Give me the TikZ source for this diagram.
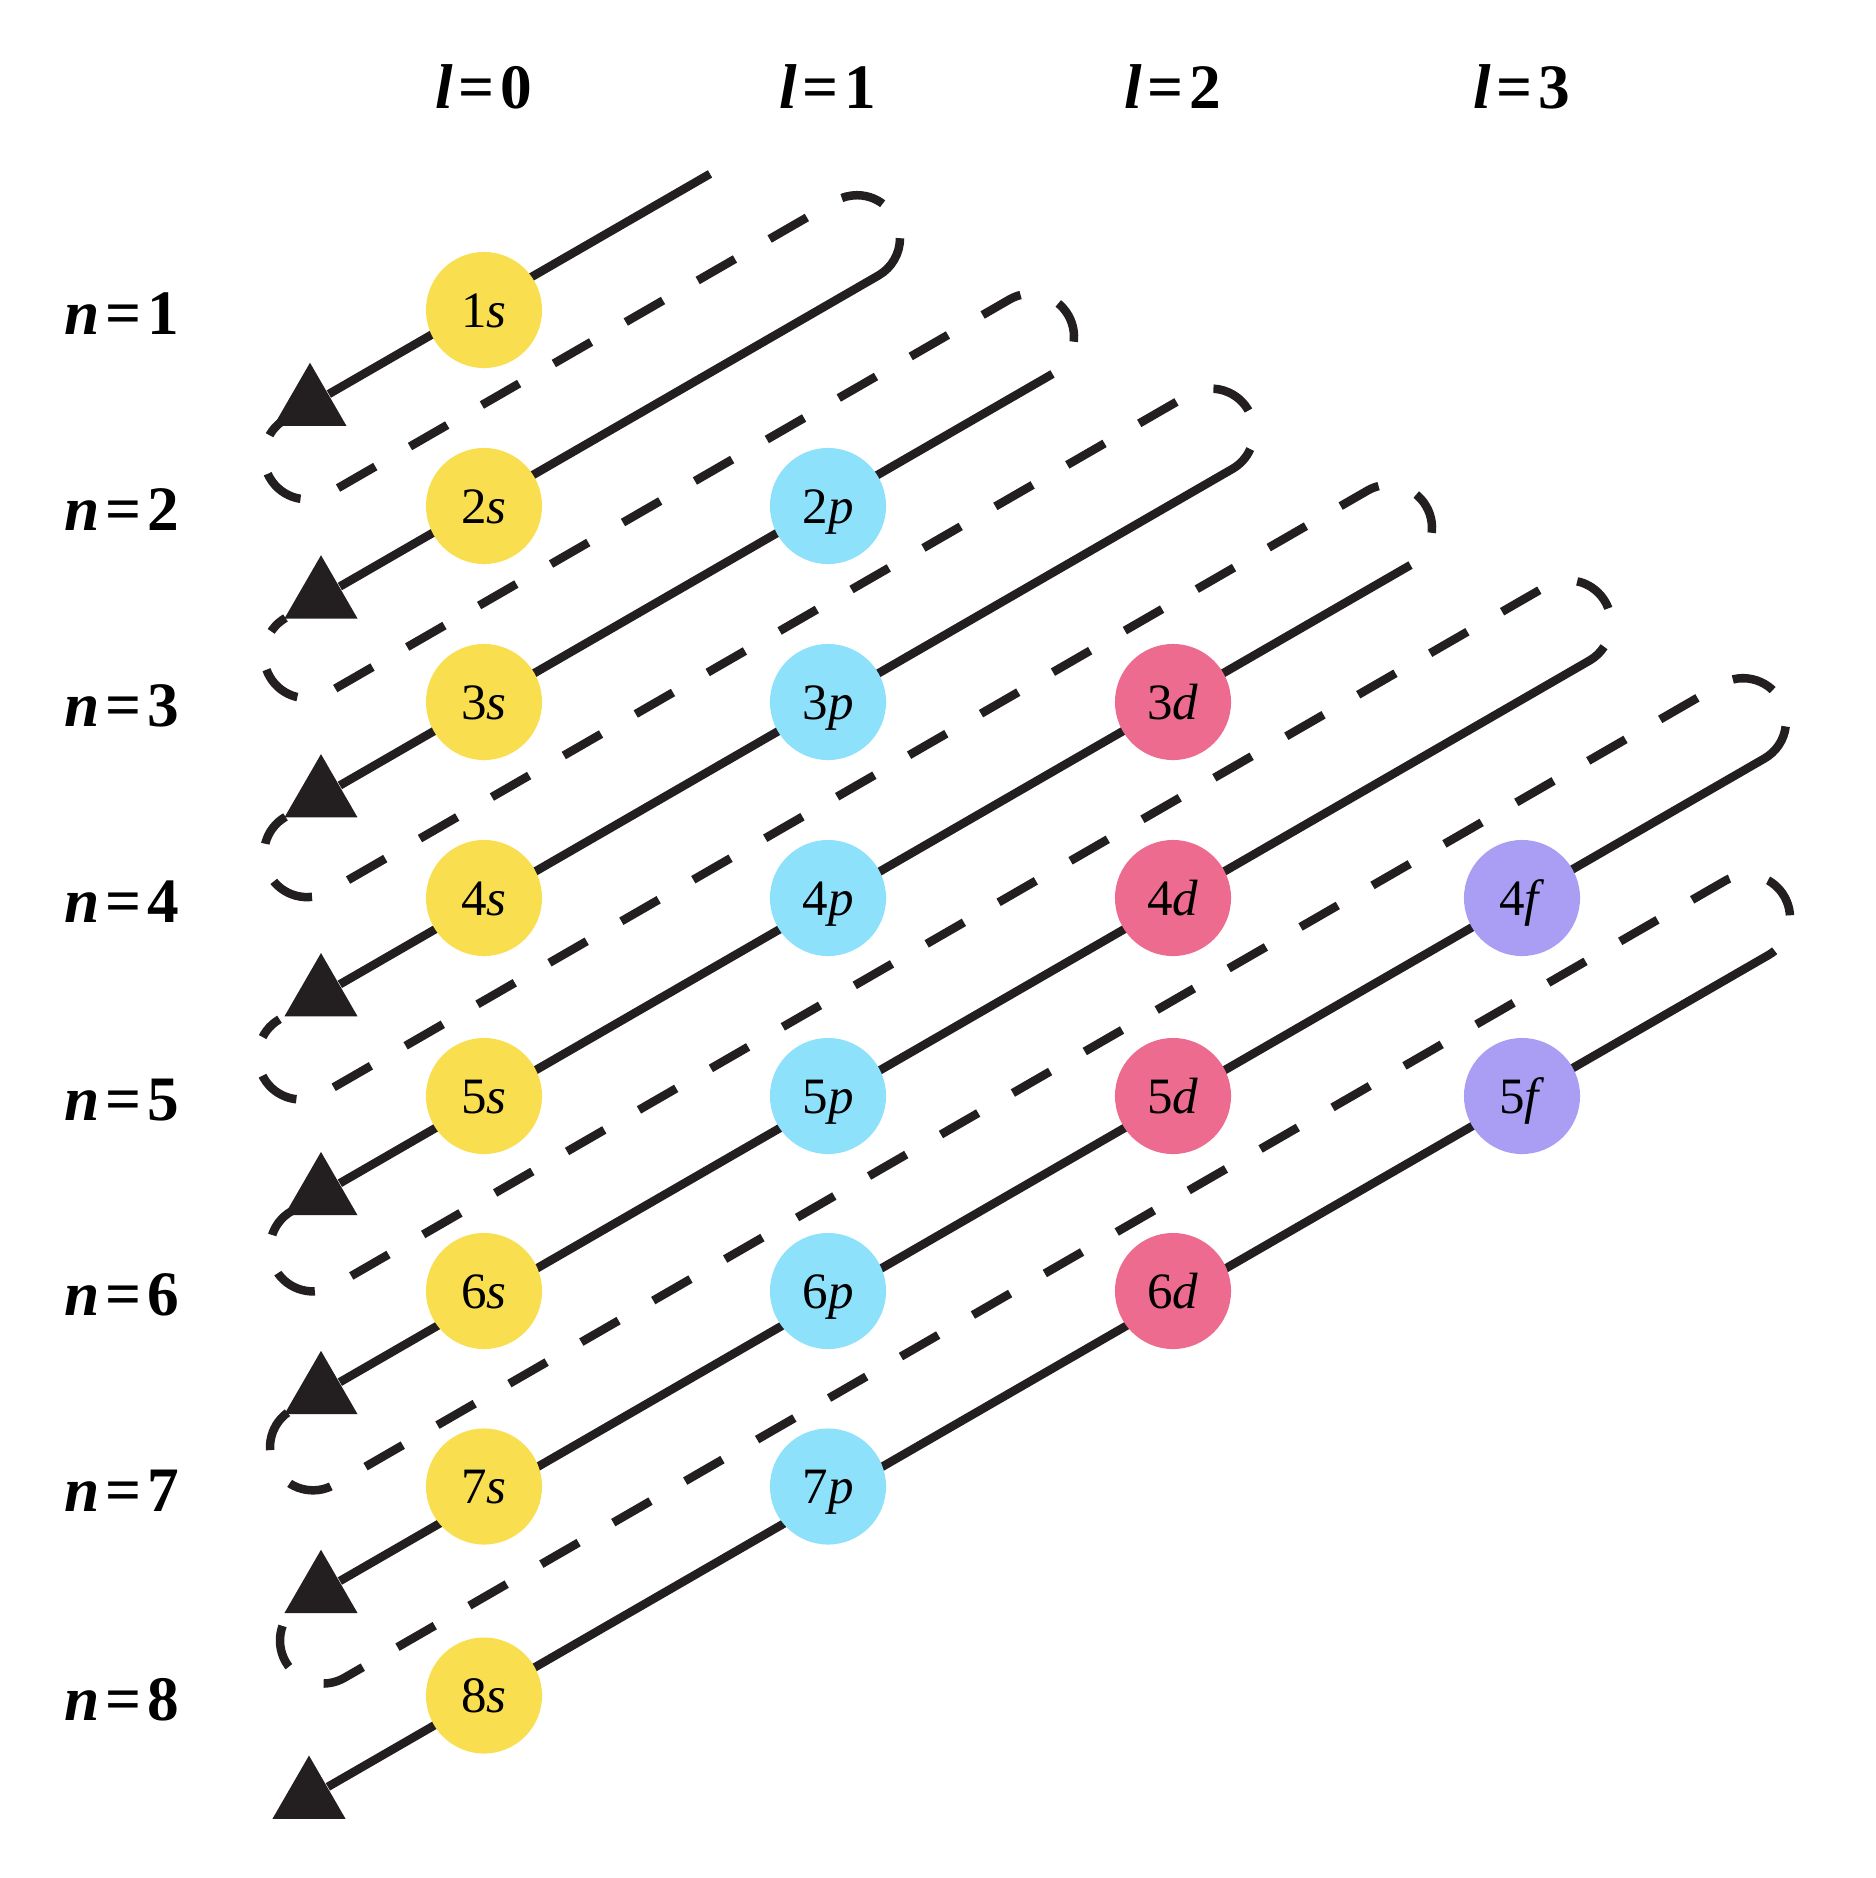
\documentclass[tikz,border=0pt]{standalone}
\usepackage{fontspec}
\setmainfont{Liberation Serif}
\usetikzlibrary{shapes.geometric,calc}

\definecolor{ink}{HTML}{231F20}
\definecolor{colS}{HTML}{F9DF4F}
\definecolor{colP}{HTML}{8EE1FB}
\definecolor{colD}{HTML}{EC6B8F}
\definecolor{colF}{HTML}{A99DF4}

\newcommand{\eqs}{\kern1.7pt=\kern1.7pt}

\begin{document}
\begin{tikzpicture}[x=0.01cm, y=0.01cm,
	orb/.style={circle, inner sep=0pt, minimum size=1.16cm, text height=9.8pt, text depth=0pt, font=\fontsize{14.5}{16}\selectfont},
	headtri/.style={regular polygon, regular polygon sides=3, inner sep=0pt, minimum size=0.843cm, fill=ink},
	lbl/.style={font=\fontsize{18}{20}\selectfont\bfseries},
	fwdline/.style={draw=ink, line width=0.085cm},
	dashret/.style={draw=ink, line width=0.085cm, dash pattern=on 0.43cm off 0.40cm, dash phase=0.43cm}]

	\fill [white] (0,0) rectangle (1876,-1878);

	% right turns
	\coordinate (turn1) at (857,-238.2);
	\coordinate (turn2) at (1031,-336.7);
	\coordinate (turn3) at (1211,-431.6);
	\coordinate (turn4) at (1389,-527.8);
	\coordinate (turn5) at (1568,-623.3);
	\coordinate (turn6) at (1743,-721.2);
	\coordinate (turn7) at (1747,-917.8);

	% left turns
	\coordinate (loop1) at (307,-456.3);
	\coordinate (loop2) at (307,-655.2);
	\coordinate (loop3) at (307,-854.1);
	\coordinate (loop4) at (301,-1056.5);
	\coordinate (loop5) at (313,-1248.4);
	\coordinate (loop6) at (313,-1447.3);
	\coordinate (loop7) at (323,-1640.5);

	\coordinate (start) at (710,-173.9);

	\node [headtri] (tip1) at (310,-404.9) {};
	\node [headtri] (tip2) at (321,-597.4) {};
	\node [headtri] (tip3) at (321,-796.3) {};
	\node [headtri] (tip4) at (321,-995.2) {};
	\node [headtri] (tip5) at (321,-1194.1) {};
	\node [headtri] (tip6) at (321,-1393.0) {};
	\node [headtri] (tip7) at (321,-1591.9) {};
	\node [headtri] (tip8) at (309,-1797.7) {};

	\draw [fwdline] (start) -- (tip1);
	\draw [fwdline] (turn1) ++(0:43) arc [start angle=0, end angle=-60, radius=43] -- (tip2);
	\draw [fwdline] (turn2) ++(-60:43) -- (tip3);
	\draw [fwdline] (turn3) ++(-24:43) arc [start angle=-24, end angle=-60, radius=43] -- (tip4);
	\draw [fwdline] (turn4) ++(-60:43) -- (tip5);
	\draw [fwdline] (turn5) ++(-33:43) arc [start angle=-33, end angle=-60, radius=43] -- (tip6);
	\draw [fwdline] (turn6) ++(-7:43) arc [start angle=-7, end angle=-60, radius=43] -- (tip7);
	\draw [fwdline] (turn7) ++(-50:43) arc [start angle=-50, end angle=-60, radius=43] -- (tip8);

	\draw [dashret] (turn1) ++(0:43) arc [start angle=0, end angle=120, radius=43] -- ($(loop1)+(300:43)$) arc [start angle=300, end angle=120, radius=43];
	\draw [dashret] (turn2) ++(-60:43) arc [start angle=-60, end angle=120, radius=43] -- ($(loop2)+(300:43)$) arc [start angle=300, end angle=120, radius=43];
	\draw [dashret] (turn3) ++(-24:43) arc [start angle=-24, end angle=120, radius=43] -- ($(loop3)+(300:43)$) arc [start angle=300, end angle=120, radius=43];
	\draw [dashret] (turn4) ++(-60:43) arc [start angle=-60, end angle=120, radius=43] -- ($(loop4)+(300:43)$) arc [start angle=300, end angle=120, radius=43];
	\draw [dashret] (turn5) ++(-33:43) arc [start angle=-33, end angle=120, radius=43] -- ($(loop5)+(300:43)$) arc [start angle=300, end angle=120, radius=43];
	\draw [dashret] (turn6) ++(-7:43) arc [start angle=-7, end angle=120, radius=43] -- ($(loop6)+(300:43)$) arc [start angle=300, end angle=120, radius=43];
	\draw [dashret] (turn7) ++(-50:43) arc [start angle=-50, end angle=120, radius=43] -- ($(loop7)+(300:43)$) arc [start angle=300, end angle=120, radius=43];

	\node [orb, fill=colS] (s1) at (484,-310) {1\textit{s}};
	\node [orb, fill=colS] (s2) at (484,-506) {2\textit{s}};
	\node [orb, fill=colS] (s3) at (484,-702) {3\textit{s}};
	\node [orb, fill=colS] (s4) at (484,-898) {4\textit{s}};
	\node [orb, fill=colS] (s5) at (484,-1096) {5\textit{s}};
	\node [orb, fill=colS] (s6) at (484,-1291) {6\textit{s}};
	\node [orb, fill=colS] (s7) at (484,-1486.5) {7\textit{s}};
	\node [orb, fill=colS] (s8) at (484,-1695.5) {8\textit{s}};

	\node [orb, fill=colP] (p2) at (828,-506) {2\textit{p}};
	\node [orb, fill=colP] (p3) at (828,-702) {3\textit{p}};
	\node [orb, fill=colP] (p4) at (828,-898) {4\textit{p}};
	\node [orb, fill=colP] (p5) at (828,-1096) {5\textit{p}};
	\node [orb, fill=colP] (p6) at (828,-1291) {6\textit{p}};
	\node [orb, fill=colP] (p7) at (828,-1486.5) {7\textit{p}};

	\node [orb, fill=colD] (d3) at (1173,-702) {3\textit{d}};
	\node [orb, fill=colD] (d4) at (1173,-898) {4\textit{d}};
	\node [orb, fill=colD] (d5) at (1173,-1096) {5\textit{d}};
	\node [orb, fill=colD] (d6) at (1173,-1291) {6\textit{d}};

	\node [orb, fill=colF] (f4) at (1522,-898) {4\textit{f}};
	\node [orb, fill=colF] (f5) at (1522,-1096) {5\textit{f}};

	\node [lbl] (n1) at (122,-314) {\textit{n}\eqs 1};
	\node [lbl] (n2) at (122,-510) {\textit{n}\eqs 2};
	\node [lbl] (n3) at (122,-706) {\textit{n}\eqs 3};
	\node [lbl] (n4) at (122,-902) {\textit{n}\eqs 4};
	\node [lbl] (n5) at (122,-1100) {\textit{n}\eqs 5};
	\node [lbl] (n6) at (122,-1295) {\textit{n}\eqs 6};
	\node [lbl] (n7) at (122,-1490.5) {\textit{n}\eqs 7};
	\node [lbl] (n8) at (122,-1700) {\textit{n}\eqs 8};

	\node [lbl] (l0) at (484,-87) {\textit{l}\eqs 0};
	\node [lbl] (l1) at (828,-87) {\textit{l}\eqs 1};
	\node [lbl] (l2) at (1173,-87) {\textit{l}\eqs 2};
	\node [lbl] (l3) at (1522,-87) {\textit{l}\eqs 3};

\end{tikzpicture}
\end{document}
